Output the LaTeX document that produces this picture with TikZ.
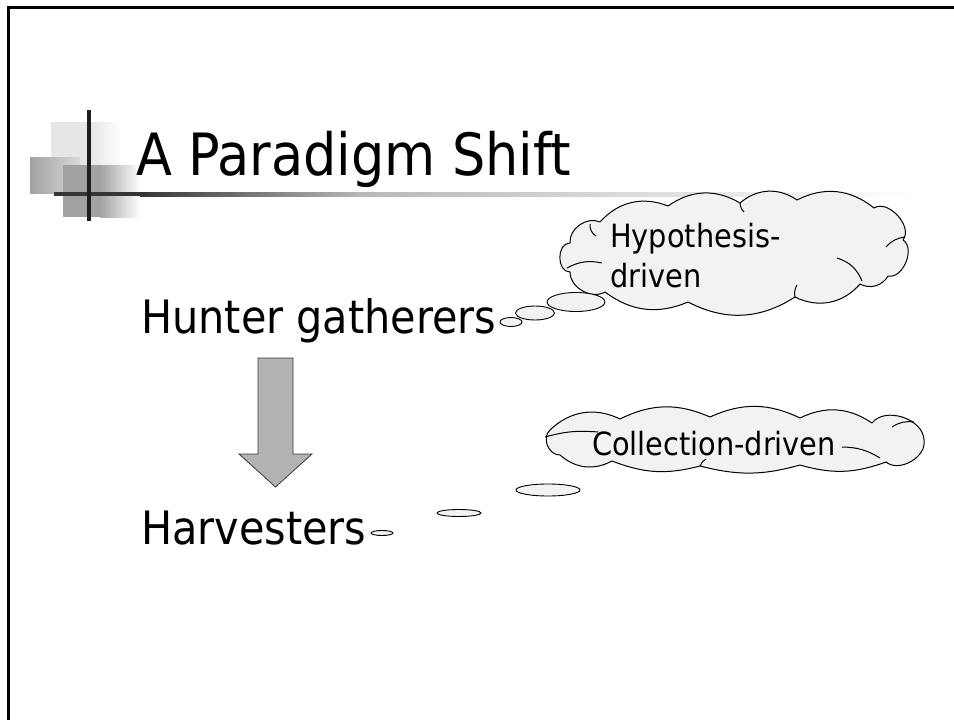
\documentclass[tikz,border=0pt]{standalone}
\usepackage{fontspec}
\setmainfont{DejaVu Sans Condensed}
\usetikzlibrary{shapes.geometric}
\definecolor{cloudfill}{HTML}{F2F2F2}
\definecolor{arrowfill}{HTML}{B2B2B2}
\definecolor{arrowedge}{HTML}{3A3A3A}
\definecolor{decolight}{HTML}{E6E6E6}
\definecolor{decomid}{HTML}{A2A2A2}
\definecolor{decodark}{HTML}{1E1E1E}
\tikzset{
  bubble/.style={ellipse, draw=black, line width=0.9pt, fill=cloudfill, inner sep=0pt},
  cloudline/.style={draw=black, line width=1pt, fill=cloudfill, line join=round},
  innerline/.style={draw=black, line width=1pt},
  titletext/.style={anchor=base west, inner sep=0pt, font=\fontsize{58.3}{70}\selectfont},
  bodytext/.style={anchor=base west, inner sep=0pt, font=\fontsize{46}{55}\selectfont},
  cloudtext/.style={inner sep=0pt, font=\fontsize{32}{38}\selectfont},
}
\begin{document}
\begin{tikzpicture}[x=1pt,y=-1pt]
\useasboundingbox (0,0) rectangle (954,720);
\fill[white] (0,0) rectangle (954,720);
% frame
\draw[line width=3pt] (8.7,720) -- (8.7,7) -- (954,7);
% decoration squares
\fill[decolight] (51,122) rectangle (90,172);
\shade[left color=decolight, right color=white] (90,122) rectangle (122,172);
\shade[shading=axis, shading angle=135, left color=decomid, right color=white!85!black] (30,157) rectangle (80,193);
\fill[decomid] (63,165) rectangle (100,217);
\shade[left color=decomid, right color=white] (100,165) rectangle (140,217);
% title underline
\fill[decodark!90] (54,192) rectangle (140,196);
\shade[left color=decodark!90, right color=white!72!black] (140,192) rectangle (360,196);
\shade[left color=white!72!black, right color=white] (360,192) rectangle (915,196);
% vertical line
\fill[decodark] (87,110) rectangle (91,221);
% texts
\node[titletext] (title) at (136,175) {A Paradigm Shift};
\node[bodytext] (hunter) at (141,333) {Hunter gatherers};
\node[bodytext] (harv) at (141,544) {Harvesters};
% block arrow
\draw[fill=arrowfill, draw=arrowedge, line width=0.8pt, line join=miter]
  (258,358) -- (293,358) -- (293,454) -- (312,454) -- (275.5,487) -- (239,454) -- (258,454) -- cycle;
% cloud 1
\path[cloudline] (570,272) to[bend left=90, looseness=1.2] (570,243)
  to[bend left=60] (600,222) to[bend left=35] (668,206) to[bend left=33] (740,203)
  to[bend left=38] (797,200) to[bend left=33] (874,208) to[bend left=80] (903,240)
  to[bend left=80] (888,276) to[bend left=45] (860,284) to[bend left=38] (795,297)
  to[bend left=30] (688,302) to[bend left=30] (605,292) to[bend left=60] cycle;
\draw[innerline] (590,224) to[bend right=30] (596,236);
\draw[innerline] (567,268) to[bend left=20] (602,263);
\draw[innerline] (837,258) to[bend left=25] (862,281);
\draw[innerline] (886,247) to[bend left=20] (905,237);
\draw[innerline] (740,203) to[bend right=20] (744,212);
\draw[innerline] (795,297) to[bend left=20] (797,285);
\node[cloudtext, anchor=base west] (hyp1) at (610,247) {Hypothesis-};
\node[cloudtext, anchor=base west] (hyp2) at (610,287) {driven};
% cloud 2
\path[cloudline] (560,455) to[bend left=70, looseness=1.1] (550,430)
  to[bend left=35] (620,419) to[bend left=25] (710,417) to[bend left=25] (800,418)
  to[bend left=30] (872,423) to[bend left=70] (924,440)
  to[bend left=70] (886,462) to[bend left=18] (800,465) to[bend left=15] (700,466)
  to[bend left=18] (612,461) to[bend left=35] cycle;
\draw[innerline] (545,437) to[bend left=10] (598,432);
\draw[innerline] (842,447) to[bend left=15] (880,458);
\draw[innerline] (892,427) to[bend left=20] (914,422);
\draw[innerline] (700,466) to[bend left=20] (706,459);
\node[cloudtext, anchor=base] (coll) at (714,455) {Collection-driven};
% bubbles
\node[bubble, minimum width=22pt, minimum height=9pt] (b1) at (511,322) {};
\node[bubble, minimum width=39pt, minimum height=14pt] (b2) at (535,313) {};
\node[bubble, minimum width=58pt, minimum height=19pt] (b3) at (576,302) {};
\node[bubble, minimum width=64pt, minimum height=12pt] (c1) at (548,490) {};
\node[bubble, minimum width=44pt, minimum height=7pt] (c2) at (459,513) {};
\node[bubble, minimum width=22pt, minimum height=5pt] (c3) at (382,533) {};
\end{tikzpicture}
\end{document}
